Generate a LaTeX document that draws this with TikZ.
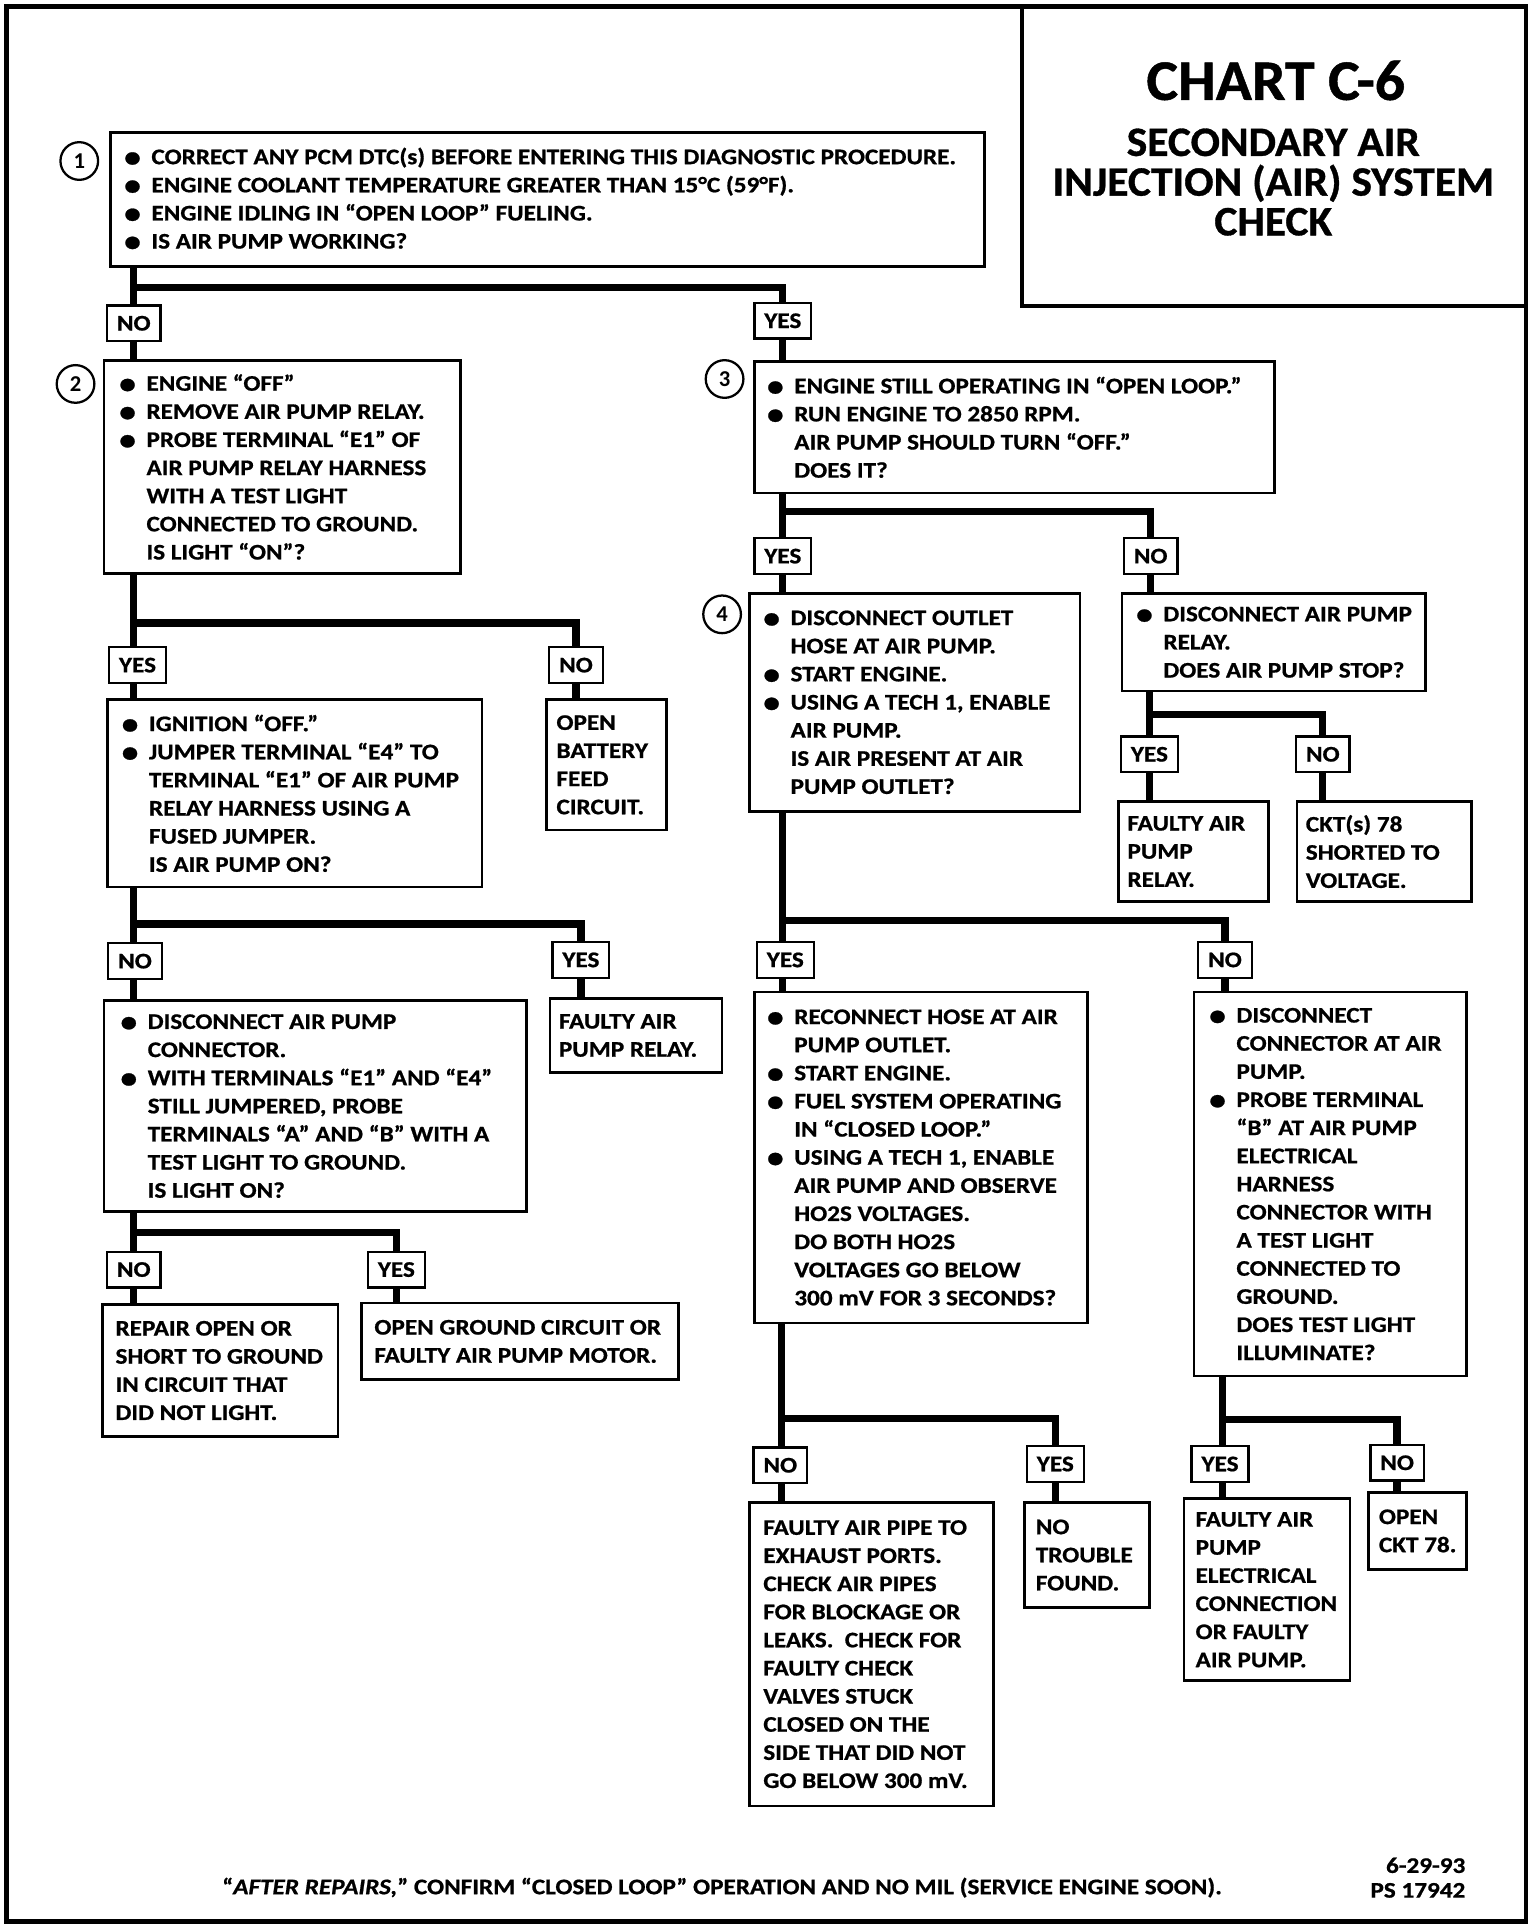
\documentclass[tikz,border=0pt]{standalone}
\usepackage{fontspec}
\setmainfont{Carlito}
\newfontfamily\chartfont{Carlito}[FakeStretch=1.13,FakeBold=0.8]
\newfontfamily\titlefont{Carlito}[FakeStretch=1.04,FakeBold=0.8]
\usetikzlibrary{fit}

\newcommand{\bul}{\makebox[0.55cm][l]{\raisebox{-1.5pt}{\fontsize{17}{17}\selectfont\textbullet}}}
\newcommand{\ind}{\hspace*{0.55cm}}

\begin{document}
\begin{tikzpicture}[x=0.025cm,y=-0.025cm,
  box/.style={draw,line width=1.5pt,inner sep=0pt},
  txt/.style={anchor=west,inner sep=0pt,align=left,font=\chartfont\bfseries\fontsize{12.8}{16.15}\selectfont},
  lbl/.style={draw,fill=white,line width=1.3pt,inner xsep=0.2cm,inner ysep=0pt,minimum height=0.72cm,font=\chartfont\bfseries\fontsize{12.8}{14}\selectfont},
  num/.style={draw,circle,line width=1.3pt,minimum size=0.76cm,inner sep=0pt,font=\bfseries\fontsize{13}{14}\selectfont},
  conn/.style={line width=4.2pt}]

\useasboundingbox (0,0) rectangle (1240,1555);
\draw[line width=2.8pt] (5,5) rectangle (1232,1551);

\node[box,line width=2pt,fit={(825,5) (1232,247)}] (title) {};
\node[font=\titlefont\bfseries\fontsize{33}{36}\selectfont] (chart) at (1030,65) {CHART C-6};
\node[align=center,font=\titlefont\bfseries\fontsize{24}{22.8}\selectfont] (name) at (1028,147) {SECONDARY AIR\\INJECTION (AIR) SYSTEM\\CHECK};

% questions
\node[box,fit={(89,107) (795,215)}] (q1) {};
\node[txt] (t1) at (100,0 |- q1.west) {\bul CORRECT ANY PCM DTC(s) BEFORE ENTERING THIS DIAGNOSTIC PROCEDURE.\\
\bul ENGINE COOLANT TEMPERATURE GREATER THAN 15°C (59°F).\\
\bul ENGINE IDLING IN “OPEN LOOP” FUELING.\\
\bul IS AIR PUMP WORKING?};
\node[num] (c1) at (64,130) {1};

\node[box,fit={(84,291) (372,463)}] (q2) {};
\node[txt] (t2) at (96,0 |- q2.west) {\bul ENGINE “OFF”\\
\bul REMOVE AIR PUMP RELAY.\\
\bul PROBE TERMINAL “E1” OF\\
\ind AIR PUMP RELAY HARNESS\\
\ind WITH A TEST LIGHT\\
\ind CONNECTED TO GROUND.\\
\ind IS LIGHT “ON”?};
\node[num] (c2) at (61,310) {2};

\node[box,fit={(609,292) (1029,398)}] (q3) {};
\node[txt] (t3) at (619,0 |- q3.west) {\bul ENGINE STILL OPERATING IN “OPEN LOOP.”\\
\bul RUN ENGINE TO 2850 RPM.\\
\ind AIR PUMP SHOULD TURN “OFF.”\\
\ind DOES IT?};
\node[num] (c3) at (585,306) {3};

\node[box,fit={(87,565) (389,716)}] (q4) {};
\node[txt] (t4) at (98,0 |- q4.west) {\bul IGNITION “OFF.”\\
\bul JUMPER TERMINAL “E4” TO\\
\ind TERMINAL “E1” OF AIR PUMP\\
\ind RELAY HARNESS USING A\\
\ind FUSED JUMPER.\\
\ind IS AIR PUMP ON?};

\node[box,fit={(84,808) (425,978)}] (q5) {};
\node[txt] (t5) at (97,0 |- q5.west) {\bul DISCONNECT AIR PUMP\\
\ind CONNECTOR.\\
\bul WITH TERMINALS “E1” AND “E4”\\
\ind STILL JUMPERED, PROBE\\
\ind TERMINALS “A” AND “B” WITH A\\
\ind TEST LIGHT TO GROUND.\\
\ind IS LIGHT ON?};

\node[box,fit={(605,479) (872,655)}] (q6) {};
\node[txt] (t6) at (616,0 |- q6.west) {\bul DISCONNECT OUTLET\\
\ind HOSE AT AIR PUMP.\\
\bul START ENGINE.\\
\bul USING A TECH 1, ENABLE\\
\ind AIR PUMP.\\
\ind IS AIR PRESENT AT AIR\\
\ind PUMP OUTLET?};
\node[num] (c4) at (583,496) {4};

\node[box,fit={(906,479) (1151,558)}] (q7) {};
\node[txt] (t7) at (917,0 |- q7.west) {\bul DISCONNECT AIR PUMP\\
\ind RELAY.\\
\ind DOES AIR PUMP STOP?};

\node[box,fit={(609,801) (878,1068)}] (q8) {};
\node[txt] (t8) at (619,0 |- q8.west) {\bul RECONNECT HOSE AT AIR\\
\ind PUMP OUTLET.\\
\bul START ENGINE.\\
\bul FUEL SYSTEM OPERATING\\
\ind IN “CLOSED LOOP.”\\
\bul USING A TECH 1, ENABLE\\
\ind AIR PUMP AND OBSERVE\\
\ind HO2S VOLTAGES.\\
\ind DO BOTH HO2S\\
\ind VOLTAGES GO BELOW\\
\ind 300 mV FOR 3 SECONDS?};

\node[box,fit={(964,801) (1184,1111)}] (q9) {};
\node[txt] (t9) at (976,0 |- q9.west) {\bul DISCONNECT\\
\ind CONNECTOR AT AIR\\
\ind PUMP.\\
\bul PROBE TERMINAL\\
\ind “B” AT AIR PUMP\\
\ind ELECTRICAL\\
\ind HARNESS\\
\ind CONNECTOR WITH\\
\ind A TEST LIGHT\\
\ind CONNECTED TO\\
\ind GROUND.\\
\ind DOES TEST LIGHT\\
\ind ILLUMINATE?};

% results
\node[box,fit={(441,565) (538,670)}] (r1) {};
\node[txt] at (449,0 |- r1.west) {OPEN\\BATTERY\\FEED\\CIRCUIT.};
\node[box,fit={(444,806) (583,866)}] (r2) {};
\node[txt] at (451,0 |- r2.west) {FAULTY AIR\\PUMP RELAY.};
\node[box,fit={(83,1053) (273,1160)}] (r3) {};
\node[txt] at (93,0 |- r3.west) {REPAIR OPEN OR\\SHORT TO GROUND\\IN CIRCUIT THAT\\DID NOT LIGHT.};
\node[box,fit={(292,1052) (548,1114)}] (r4) {};
\node[txt] at (302,0 |- r4.west) {OPEN GROUND CIRCUIT OR\\FAULTY AIR PUMP MOTOR.};
\node[box,fit={(903,647) (1024,728)}] (r5) {};
\node[txt] at (910,0 |- r5.west) {FAULTY AIR\\PUMP\\RELAY.};
\node[box,fit={(1047,647) (1188,728)}] (r6) {};
\node[txt] at (1054,0 |- r6.west) {CKT(s) 78\\SHORTED TO\\VOLTAGE.};
\node[box,fit={(605,1213) (802,1458)}] (r7) {};
\node[txt] at (616,0 |- r7.west) {FAULTY AIR PIPE TO\\EXHAUST PORTS.\\CHECK AIR PIPES\\FOR BLOCKAGE OR\\LEAKS.\ \ CHECK FOR\\FAULTY CHECK\\VALVES STUCK\\CLOSED ON THE\\SIDE THAT DID NOT\\GO BELOW 300 mV.};
\node[box,fit={(827,1213) (928,1298)}] (r8) {};
\node[txt] at (836,0 |- r8.west) {NO\\TROUBLE\\FOUND.};
\node[box,fit={(956,1210) (1090,1357)}] (r9) {};
\node[txt] at (965,0 |- r9.west) {FAULTY AIR\\PUMP\\ELECTRICAL\\CONNECTION\\OR FAULTY\\AIR PUMP.};
\node[box,fit={(1105,1205) (1184,1267)}] (r10) {};
\node[txt] at (1113,0 |- r10.west) {OPEN\\CKT 78.};

% yes / no
\coordinate (j1) at (108,232);
\node[lbl] (n1) at (108,261) {NO};
\node[lbl] (y1) at (632,259) {YES};
\draw[conn] (q1.south -| j1) -- (n1.north);
\draw[conn] (j1) -| (y1.north);
\draw[conn] (n1.south) -- (q2.north -| n1);
\draw[conn] (y1.south) -- (q3.north -| y1);

\coordinate (j2) at (108,503);
\node[lbl] (y2) at (111,537) {YES};
\node[lbl] (n2) at (465,537) {NO};
\draw[conn] (q2.south -| j2) -- (j2 |- y2.north);
\draw[conn] (j2) -| (n2.north);
\draw[conn] (j2 |- y2.south) -- (q4.north -| j2);
\draw[conn] (n2.south) -- (r1.north -| n2);

\coordinate (j3) at (108,746);
\node[lbl] (n3) at (109,776) {NO};
\node[lbl] (y3) at (469,775) {YES};
\draw[conn] (q4.south -| j3) -- (j3 |- n3.north);
\draw[conn] (j3) -| (y3.north);
\draw[conn] (j3 |- n3.south) -- (q5.north -| j3);
\draw[conn] (y3.south) -- (r2.north -| y3);

\coordinate (j4) at (108,995);
\node[lbl] (n4) at (108,1025) {NO};
\node[lbl] (y4) at (320,1025) {YES};
\draw[conn] (q5.south -| j4) -- (n4.north);
\draw[conn] (j4) -| (y4.north);
\draw[conn] (n4.south) -- (r3.north -| n4);
\draw[conn] (y4.south) -- (r4.north -| y4);

\coordinate (j5) at (632,413);
\node[lbl] (y5) at (632,449) {YES};
\node[lbl] (n5) at (929,449) {NO};
\draw[conn] (q3.south -| j5) -- (y5.north);
\draw[conn] (j5) -| (n5.north);
\draw[conn] (y5.south) -- (q6.north -| y5);
\draw[conn] (n5.south) -- (q7.north -| n5);

\coordinate (j6) at (928,577);
\node[lbl] (y6) at (928,609) {YES};
\node[lbl] (n6) at (1068,609) {NO};
\draw[conn] (q7.south -| j6) -- (y6.north);
\draw[conn] (j6) -| (n6.north);
\draw[conn] (y6.south) -- (r5.north -| y6);
\draw[conn] (n6.south) -- (r6.north -| n6);

\coordinate (j7) at (632,743);
\node[lbl] (y7) at (634,775) {YES};
\node[lbl] (n7) at (989,775) {NO};
\draw[conn] (q6.south -| j7) -- (j7 |- y7.north);
\draw[conn] (j7) -| (n7.north);
\draw[conn] (j7 |- y7.south) -- (q8.north -| j7);
\draw[conn] (n7.south) -- (q9.north -| n7);

\coordinate (j8) at (631,1145);
\node[lbl] (n8) at (630,1183) {NO};
\node[lbl] (y8) at (852,1182) {YES};
\draw[conn] (q8.south -| j8) -- (j8 |- n8.north);
\draw[conn] (j8) -| (y8.north);
\draw[conn] (j8 |- n8.south) -- (r7.north -| j8);
\draw[conn] (y8.south) -- (r8.north -| y8);

\coordinate (j9) at (987,1146);
\node[lbl] (y9) at (985,1182) {YES};
\node[lbl] (n9) at (1128,1181) {NO};
\draw[conn] (q9.south -| j9) -- (j9 |- y9.north);
\draw[conn] (j9) -| (n9.north);
\draw[conn] (j9 |- y9.south) -- (r9.north -| j9);
\draw[conn] (n9.south) -- (r10.north -| n9);

\node[font=\chartfont\bfseries\fontsize{12.8}{15}\selectfont] (foot) at (583,1524) {“\textit{AFTER REPAIRS,}” CONFIRM “CLOSED LOOP” OPERATION AND NO MIL (SERVICE ENGINE SOON).};
\node[anchor=east,align=right,font=\chartfont\bfseries\fontsize{12.8}{14.2}\selectfont] (code) at (1188,1516) {6-29-93\\PS 17942};

\end{tikzpicture}
\end{document}
